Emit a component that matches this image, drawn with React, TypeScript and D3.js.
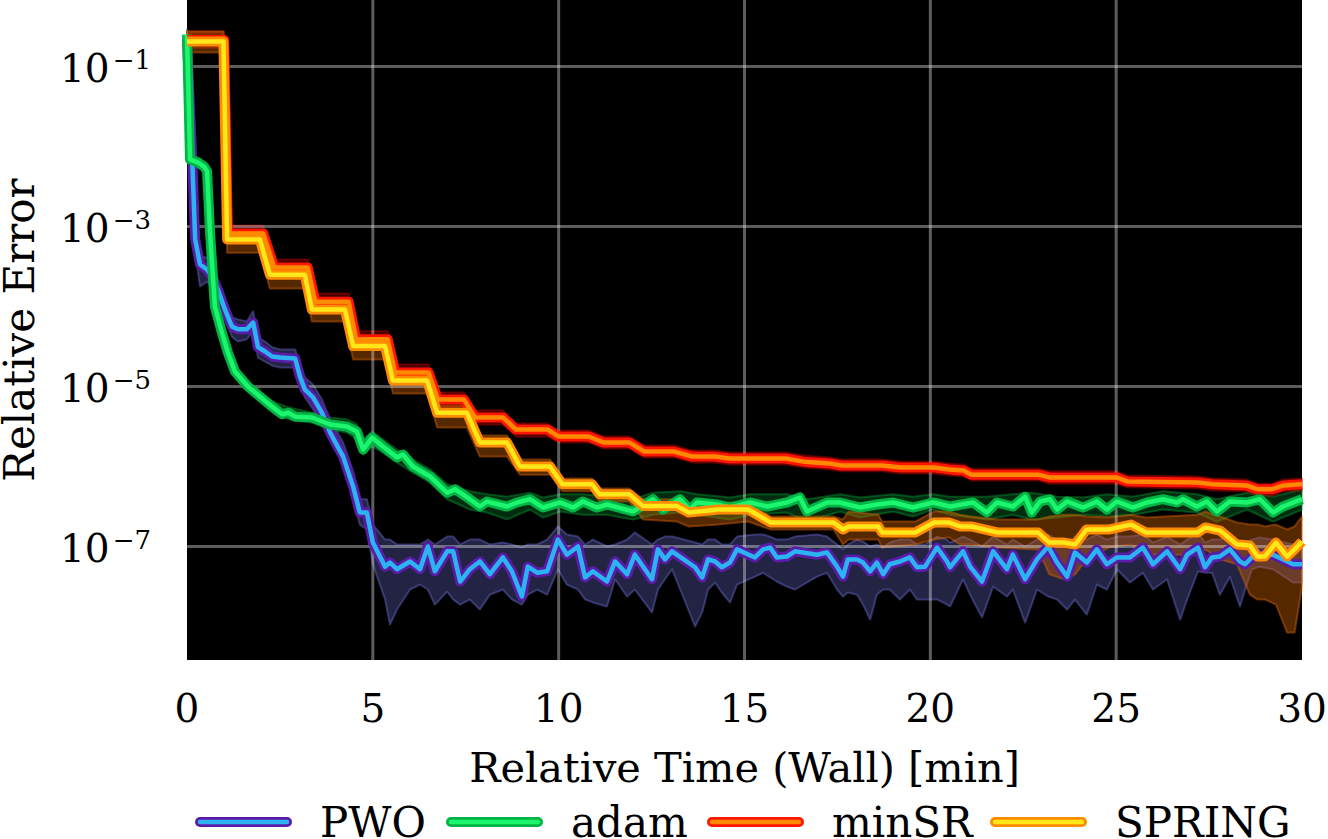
import React from 'react';
import * as d3 from 'd3';

// ---------------- DATA ----------------
const X_TICKS = [0, 5, 10, 15, 20, 25, 30];
const Y_TICK_EXPONENTS = [-1, -3, -5, -7];
const X_LABEL = 'Relative Time (Wall) [min]';
const Y_LABEL = 'Relative Error';
const SERIES_NAMES = ['PWO', 'adam', 'minSR', 'SPRING'];

// PWO
const PWO_T = [
  0, 0.13, 0.22, 0.35, 0.54, 0.67, 0.83, 1.02, 1.21, 1.37,
  1.61, 1.78, 1.91, 2.1, 2.29, 2.5, 2.91, 3.04, 3.17, 3.39,
  3.63, 3.85, 4.2, 4.47, 4.65, 4.84, 5.0, 5.33, 5.46, 5.65,
  6.0, 6.27, 6.48, 6.67, 7.0, 7.16, 7.35, 7.61, 7.88, 8.15,
  8.5, 8.74, 9.01, 9.17, 9.42, 9.69, 9.98, 10.22, 10.52, 10.71,
  10.92, 11.3, 11.52, 11.84, 12.05, 12.51, 12.67, 12.86, 13.05, 13.67,
  13.86, 14.02, 14.21, 14.39, 14.61, 14.8, 15.28, 15.5, 15.69, 15.87,
  16.14, 16.36, 16.95, 17.22, 17.49, 17.65, 17.78, 18.03, 18.19, 18.38,
  18.56, 18.73, 18.91, 19.18, 19.45, 19.64, 19.86, 20.18, 20.45, 20.53,
  20.88, 21.07, 21.39, 21.69, 22.06, 22.22, 22.55, 22.87, 23.17, 23.41,
  23.68, 23.89, 24.21, 24.48, 24.75, 25.02, 25.37, 25.72, 25.99, 26.37,
  26.72, 26.91, 27.2, 27.39, 27.58, 27.79, 28.06, 28.33, 28.47, 28.65,
  28.87, 29.22, 29.76, 30,
];
const PWO_MEAN = [
  2.2e-1, 9.2e-3, 6.9e-4, 3.35e-4, 2.9e-4, 2.37e-4, 1.63e-4, 9.2e-5, 5.6e-5, 5.2e-5,
  5.2e-5, 6.3e-5, 3.1e-5, 2.74e-5, 2.37e-5, 2.3e-5, 2.24e-5, 1.33e-5, 9.2e-6, 7.3e-6,
  4.7e-6, 2.66e-6, 1.33e-6, 5.6e-7, 2.66e-7, 2.66e-7, 1.12e-7, 5.6e-8, 6.3e-8, 5.2e-8,
  6.5e-8, 5.2e-8, 1.0e-7, 4.9e-8, 8.7e-8, 8.7e-8, 3.65e-8, 5.2e-8, 6.5e-8, 4.5e-8,
  7.3e-8, 4.9e-8, 2.37e-8, 5.6e-8, 4.7e-8, 4.9e-8, 1.22e-7, 7.9e-8, 1.0e-7, 4.1e-8,
  4.9e-8, 3.65e-8, 6.5e-8, 4.5e-8, 7.9e-8, 3.9e-8, 9.2e-8, 6.9e-8, 8.7e-8, 5.5e-8,
  4.1e-8, 6.9e-8, 6.5e-8, 5.5e-8, 6.3e-8, 9.2e-8, 7.3e-8, 9.2e-8, 9.7e-8, 7.3e-8,
  7.5e-8, 8.7e-8, 7.9e-8, 8.4e-8, 5.6e-8, 4.2e-8, 6.9e-8, 6.9e-8, 6.3e-8, 4.9e-8,
  6.3e-8, 4.5e-8, 6.0e-8, 6.5e-8, 7.3e-8, 5.5e-8, 5.6e-8, 9.7e-8, 6.5e-8, 5.5e-8,
  8.7e-8, 5.6e-8, 3.65e-8, 8.7e-8, 5.2e-8, 7.9e-8, 3.9e-8, 6.9e-8, 1.0e-7, 6.3e-8,
  4.2e-8, 8.4e-8, 6.3e-8, 9.2e-8, 6.0e-8, 7.3e-8, 7.3e-8, 9.7e-8, 6.0e-8, 8.7e-8,
  5.2e-8, 7.9e-8, 9.7e-8, 5.5e-8, 7.3e-8, 7.5e-8, 9.2e-8, 6.5e-8, 6.0e-8, 7.3e-8,
  7.9e-8, 7.9e-8, 6.0e-8, 6.0e-8,
];
const PWO_HI = [
  0.29, 1.22e-2, 8.7e-4, 4.2e-4, 4.1e-4, 3.35e-4, 2.18e-4, 1.22e-4, 7.3e-5, 6.9e-5,
  6.5e-5, 8.7e-5, 4.1e-5, 3.65e-5, 3.1e-5, 2.9e-5, 2.9e-5, 1.88e-5, 1.3e-5, 1.06e-5,
  6.9e-6, 3.9e-6, 2.0e-6, 8.7e-7, 3.9e-7, 3.9e-7, 1.88e-7, 1.22e-7, 1.22e-7, 1.06e-7,
  1.06e-7, 1.06e-7, 1.22e-7, 1.06e-7, 1.33e-7, 1.33e-7, 1.06e-7, 1.22e-7, 1.22e-7, 1.06e-7,
  1.12e-7, 1.06e-7, 9.7e-8, 1.06e-7, 1.06e-7, 1.22e-7, 1.78e-7, 1.41e-7, 1.33e-7, 1.06e-7,
  1.22e-7, 1.0e-7, 1.06e-7, 1.22e-7, 1.5e-7, 1.06e-7, 1.22e-7, 1.33e-7, 1.33e-7, 1.12e-7,
  1.06e-7, 1.22e-7, 1.22e-7, 1.06e-7, 1.06e-7, 1.33e-7, 1.41e-7, 1.41e-7, 1.33e-7, 1.22e-7,
  1.22e-7, 1.33e-7, 1.41e-7, 1.33e-7, 1.06e-7, 9.2e-8, 1.06e-7, 1.22e-7, 1.15e-7, 1.0e-7,
  1.06e-7, 9.7e-8, 1.12e-7, 1.22e-7, 1.22e-7, 1.06e-7, 1.06e-7, 1.33e-7, 1.22e-7, 1.12e-7,
  1.33e-7, 1.22e-7, 1.0e-7, 1.33e-7, 1.06e-7, 1.22e-7, 1.0e-7, 1.22e-7, 1.41e-7, 1.22e-7,
  1.06e-7, 1.33e-7, 1.22e-7, 1.41e-7, 1.22e-7, 1.33e-7, 1.33e-7, 1.41e-7, 1.12e-7, 1.33e-7,
  1.06e-7, 1.22e-7, 1.5e-7, 1.12e-7, 1.22e-7, 1.22e-7, 1.41e-7, 1.12e-7, 1.06e-7, 1.22e-7,
  1.3e-7, 1.22e-7, 1.06e-7, 1.06e-7,
];
const PWO_LO = [
  0.163, 6.0e-3, 4.9e-4, 1.78e-4, 2.05e-4, 1.73e-4, 1.22e-4, 6.9e-5, 4.2e-5, 3.65e-5,
  3.9e-5, 4.9e-5, 2.3e-5, 2.05e-5, 1.83e-5, 1.73e-5, 1.73e-5, 1.06e-5, 7.3e-6, 5.2e-6,
  3.35e-6, 2.18e-6, 1.06e-6, 3.9e-7, 1.88e-7, 1.63e-7, 6.0e-8, 2.18e-8, 1.06e-8, 1.63e-8,
  2.9e-8, 3.35e-8, 2.9e-8, 1.88e-8, 2.74e-8, 2.18e-8, 1.88e-8, 2.18e-8, 1.63e-8, 2.5e-8,
  2.9e-8, 2.18e-8, 1.88e-8, 2.5e-8, 2.9e-8, 2.5e-8, 5.2e-8, 3.35e-8, 2.9e-8, 2.18e-8,
  2.0e-8, 1.78e-8, 3.9e-8, 2.37e-8, 2.9e-8, 1.5e-8, 2.9e-8, 3.9e-8, 5.2e-8, 1.0e-8,
  1.5e-8, 2.9e-8, 3.55e-8, 2.66e-8, 2.0e-8, 3.35e-8, 4.2e-8, 4.7e-8, 4.1e-8, 3.65e-8,
  3.16e-8, 2.9e-8, 4.2e-8, 4.7e-8, 2.9e-8, 2.37e-8, 2.66e-8, 2.5e-8, 1.88e-8, 1.22e-8,
  2.5e-8, 2.9e-8, 2.9e-8, 2.18e-8, 2.9e-8, 2.18e-8, 2.18e-8, 2.18e-8, 1.88e-8, 1.78e-8,
  3.9e-8, 2.5e-8, 1.3e-8, 3.16e-8, 2.37e-8, 2.9e-8, 1.12e-8, 2.9e-8, 2.37e-8, 2.18e-8,
  1.63e-8, 2.18e-8, 1.41e-8, 3.35e-8, 2.9e-8, 5.2e-8, 3.55e-8, 4.7e-8, 2.9e-8, 3.9e-8,
  1.22e-8, 2.18e-8, 4.9e-8, 4.7e-8, 4.7e-8, 2.5e-8, 4.2e-8, 1.78e-8, 2.9e-8, 5.2e-8,
  5.6e-8, 5.2e-8, 3.55e-8, 3.55e-8,
];

// adam
const ADAM_T = [
  0, 0.05, 0.08, 0.3, 0.46, 0.54, 0.62, 0.75, 0.94, 1.1,
  1.29, 1.64, 1.96, 2.29, 2.56, 2.72, 2.91, 3.36, 3.85, 4.3,
  4.57, 4.74, 4.98, 5.27, 5.65, 5.81, 6.08, 6.54, 7.0, 7.21,
  7.61, 7.88, 8.07, 8.61, 8.88, 9.23, 9.58, 10.04, 10.39, 10.65,
  11.03, 11.3, 12.0, 12.54, 12.81, 13.26, 13.53, 13.72, 14.26, 14.61,
  15.15, 15.61, 16.14, 16.49, 16.68, 17.22, 17.57, 18.11, 18.56, 19.0,
  19.53, 20.07, 20.53, 21.15, 21.52, 21.79, 22.22, 22.55, 22.73, 22.95,
  23.22, 23.41, 23.68, 24.11, 24.48, 24.75, 25.02, 25.45, 25.83, 26.26,
  26.64, 26.8, 27.17, 27.44, 27.71, 28.06, 28.52, 28.87, 29.22, 29.49,
  30,
];
const ADAM_MEAN = [
  0.25, 2.9e-2, 6.9e-3, 6.3e-3, 5.6e-3, 4.9e-3, 8.4e-4, 1.0e-4, 4.7e-5, 2.66e-5,
  1.54e-5, 1.0e-5, 7.5e-6, 5.6e-6, 4.5e-6, 4.7e-6, 4.2e-6, 4.1e-6, 3.35e-6, 3.16e-6,
  2.74e-6, 1.63e-6, 2.3e-6, 1.78e-6, 1.3e-6, 1.41e-6, 1.0e-6, 7.5e-7, 4.7e-7, 5.2e-7,
  3.9e-7, 3.16e-7, 3.65e-7, 3.16e-7, 3.55e-7, 3.9e-7, 3.07e-7, 3.55e-7, 3.07e-7, 3.65e-7,
  3.07e-7, 3.35e-7, 2.74e-7, 3.9e-7, 2.9e-7, 3.9e-7, 2.9e-7, 3.55e-7, 3.35e-7, 3.07e-7,
  3.55e-7, 3.16e-7, 3.55e-7, 4.1e-7, 2.74e-7, 3.55e-7, 3.55e-7, 3.07e-7, 3.35e-7, 3.55e-7,
  3.07e-7, 3.55e-7, 3.16e-7, 3.55e-7, 2.66e-7, 3.55e-7, 3.16e-7, 4.2e-7, 2.66e-7, 3.65e-7,
  3.9e-7, 2.9e-7, 3.65e-7, 3.07e-7, 3.65e-7, 2.9e-7, 3.65e-7, 3.07e-7, 3.55e-7, 3.9e-7,
  3.55e-7, 3.9e-7, 3.16e-7, 3.65e-7, 2.74e-7, 3.65e-7, 3.55e-7, 3.9e-7, 2.66e-7, 3.16e-7,
  3.9e-7,
];
const ADAM_BAND_T = [
  0, 0.08, 0.3, 0.46, 0.54, 0.62, 0.75, 0.94, 1.1, 1.29,
  1.64, 1.96, 2.29, 2.72, 3.36, 3.85, 4.3, 4.57, 4.74, 4.98,
  5.27, 5.65, 6.08, 6.54, 7.0, 7.61, 8.07, 8.61, 9.23, 9.58,
  10.04, 10.65, 11.3, 12.0, 12.54, 13.26, 13.72, 14.61, 15.15, 16.14,
  16.68, 17.57, 18.11, 19.0, 19.53, 20.07, 20.53, 21.52, 22.22, 22.73,
  23.41, 24.11, 24.75, 25.45, 26.26, 27.17, 27.71, 28.52, 29.22, 30,
];
const ADAM_HI = [
  0.29, 7.9e-3, 7.3e-3, 6.5e-3, 5.6e-3, 9.7e-4, 1.15e-4, 5.5e-5, 3.1e-5, 1.78e-5,
  1.15e-5, 8.7e-6, 6.5e-6, 5.5e-6, 4.7e-6, 4.1e-6, 3.9e-6, 3.35e-6, 2.18e-6, 2.74e-6,
  2.18e-6, 1.63e-6, 1.22e-6, 9.2e-7, 6.0e-7, 4.9e-7, 4.5e-7, 4.2e-7, 4.7e-7, 4.1e-7,
  4.5e-7, 4.5e-7, 4.2e-7, 3.9e-7, 4.7e-7, 4.9e-7, 4.5e-7, 4.1e-7, 4.5e-7, 4.5e-7,
  3.9e-7, 4.5e-7, 4.1e-7, 4.5e-7, 4.2e-7, 4.5e-7, 4.2e-7, 4.2e-7, 4.5e-7, 4.7e-7,
  4.2e-7, 4.1e-7, 4.5e-7, 4.2e-7, 4.9e-7, 4.5e-7, 3.9e-7, 4.7e-7, 4.2e-7, 5.2e-7,
];
const ADAM_LO = [
  0.188, 6.0e-3, 5.5e-3, 4.9e-3, 4.2e-3, 7.3e-4, 8.7e-5, 4.1e-5, 2.3e-5, 1.33e-5,
  8.7e-6, 6.5e-6, 4.9e-6, 3.9e-6, 3.55e-6, 2.9e-6, 2.66e-6, 2.18e-6, 1.41e-6, 1.78e-6,
  1.5e-6, 1.12e-6, 8.4e-7, 6.3e-7, 3.9e-7, 2.9e-7, 2.66e-7, 2.18e-7, 2.9e-7, 2.3e-7,
  2.74e-7, 2.5e-7, 2.5e-7, 2.18e-7, 2.5e-7, 2.66e-7, 2.5e-7, 2.18e-7, 2.5e-7, 2.66e-7,
  2.05e-7, 2.74e-7, 2.3e-7, 2.74e-7, 2.37e-7, 2.9e-7, 2.5e-7, 2.18e-7, 2.5e-7, 2.18e-7,
  2.3e-7, 2.5e-7, 2.37e-7, 2.5e-7, 2.9e-7, 2.66e-7, 2.05e-7, 2.9e-7, 2.05e-7, 2.9e-7,
];

// minSR
const MINSR_T = [
  0, 1.0, 1.1, 2.05, 2.35, 3.25, 3.45, 4.35, 4.55, 5.4,
  5.6, 6.5, 6.75, 7.45, 7.75, 8.5, 8.85, 9.7, 10.0, 10.8,
  11.2, 11.9, 12.3, 13.1, 13.6, 14.2, 14.6, 16.1, 16.6, 17.3,
  17.6, 18.7, 19.2, 20.1, 20.5, 20.9, 21.1, 22.9, 23.2, 25.0,
  25.3, 27.2, 27.6, 28.5, 28.8, 29.2, 29.5, 30,
];
const MINSR_MEAN = [
  2.15e-1, 2.15e-1, 8.2e-4, 8.2e-4, 3.07e-4, 3.07e-4, 1.15e-4, 1.15e-4, 3.9e-5, 3.9e-5,
  1.5e-5, 1.5e-5, 6.9e-6, 6.9e-6, 4.1e-6, 4.1e-6, 2.9e-6, 2.9e-6, 2.37e-6, 2.37e-6,
  2.0e-6, 2.0e-6, 1.54e-6, 1.54e-6, 1.33e-6, 1.33e-6, 1.26e-6, 1.26e-6, 1.15e-6, 1.09e-6,
  1.03e-6, 1.03e-6, 9.7e-7, 9.7e-7, 9.2e-7, 8.9e-7, 7.9e-7, 7.9e-7, 7.3e-7, 7.3e-7,
  6.5e-7, 6.3e-7, 6.0e-7, 5.8e-7, 5.2e-7, 5.2e-7, 5.8e-7, 6.0e-7,
];
const MINSR_HI = [
  0.274, 0.274, 1.03e-3, 1.03e-3, 3.87e-4, 3.87e-4, 1.45e-4, 1.45e-4, 4.9e-5, 4.9e-5,
  1.88e-5, 1.88e-5, 8.4e-6, 8.4e-6, 5.0e-6, 5.0e-6, 3.45e-6, 3.45e-6, 2.82e-6, 2.82e-6,
  2.37e-6, 2.37e-6, 1.83e-6, 1.83e-6, 1.58e-6, 1.58e-6, 1.5e-6, 1.5e-6, 1.37e-6, 1.3e-6,
  1.22e-6, 1.22e-6, 1.15e-6, 1.15e-6, 1.09e-6, 1.06e-6, 9.4e-7, 9.4e-7, 8.7e-7, 8.7e-7,
  7.7e-7, 7.5e-7, 7.1e-7, 6.9e-7, 6.1e-7, 6.1e-7, 6.9e-7, 7.1e-7,
];
const MINSR_LO = [
  0.173, 0.173, 6.5e-4, 6.5e-4, 2.44e-4, 2.44e-4, 9.2e-5, 9.2e-5, 3.1e-5, 3.1e-5,
  1.19e-5, 1.19e-5, 5.5e-6, 5.5e-6, 3.35e-6, 3.35e-6, 2.37e-6, 2.37e-6, 2.0e-6, 2.0e-6,
  1.68e-6, 1.68e-6, 1.3e-6, 1.3e-6, 1.12e-6, 1.12e-6, 1.06e-6, 1.06e-6, 9.7e-7, 9.2e-7,
  8.7e-7, 8.7e-7, 8.2e-7, 8.2e-7, 7.7e-7, 7.5e-7, 6.7e-7, 6.7e-7, 6.1e-7, 6.1e-7,
  5.5e-7, 5.3e-7, 5.0e-7, 4.9e-7, 4.3e-7, 4.3e-7, 4.9e-7, 5.0e-7,
];

// SPRING
const SPRING_T = [
  0, 0.98, 1.08, 1.96, 2.23, 3.17, 3.36, 4.25, 4.47, 5.33,
  5.54, 6.46, 6.73, 7.53, 7.88, 8.61, 8.96, 9.77, 10.1, 10.9,
  11.1, 11.9, 12.27, 13.18, 13.5, 14.3, 15.1, 15.7, 17.4, 17.65,
  17.8, 18.6, 18.7, 19.6, 20.1, 20.5, 20.8, 21.1, 21.8, 22.9,
  23.2, 23.6, 23.9, 24.2, 24.8, 25.4, 25.8, 27.2, 27.4, 27.8,
  28.25, 28.6, 28.8, 29.0, 29.3, 29.6, 29.8, 30,
];
const SPRING_MEAN = [
  0.205, 0.205, 6.9e-4, 6.9e-4, 2.5e-4, 2.5e-4, 9.2e-5, 9.2e-5, 3.2e-5, 3.2e-5,
  1.19e-5, 1.19e-5, 4.7e-6, 4.7e-6, 2.0e-6, 2.0e-6, 1.0e-6, 1.0e-6, 6.0e-7, 6.0e-7,
  4.5e-7, 4.5e-7, 3.2e-7, 3.2e-7, 2.66e-7, 2.9e-7, 2.9e-7, 2.0e-7, 2.0e-7, 1.63e-7,
  1.78e-7, 1.78e-7, 1.5e-7, 1.5e-7, 2.0e-7, 2.0e-7, 1.78e-7, 1.78e-7, 1.5e-7, 1.5e-7,
  1.12e-7, 1.12e-7, 1.06e-7, 1.63e-7, 1.63e-7, 1.88e-7, 1.5e-7, 1.5e-7, 1.73e-7, 1.58e-7,
  1.06e-7, 1.03e-7, 7.5e-8, 7.5e-8, 1.12e-7, 7.5e-8, 9.2e-8, 1.15e-7,
];
const SPRING_HI = [
  0.274, 0.274, 8.7e-4, 8.7e-4, 3.16e-4, 3.16e-4, 1.15e-4, 1.15e-4, 3.9e-5, 3.9e-5,
  1.45e-5, 1.45e-5, 5.8e-6, 5.8e-6, 2.44e-6, 2.44e-6, 1.22e-6, 1.22e-6, 7.1e-7, 7.1e-7,
  5.3e-7, 5.3e-7, 3.9e-7, 3.9e-7, 3.35e-7, 3.55e-7, 3.55e-7, 2.37e-7, 2.37e-7, 2.18e-7,
  2.74e-7, 2.5e-7, 2.05e-7, 2.05e-7, 2.74e-7, 2.74e-7, 2.5e-7, 2.37e-7, 2.18e-7, 2.18e-7,
  2.37e-7, 2.5e-7, 2.5e-7, 2.37e-7, 2.3e-7, 2.5e-7, 2.3e-7, 2.5e-7, 2.74e-7, 2.37e-7,
  2.0e-7, 1.88e-7, 1.88e-7, 1.78e-7, 1.88e-7, 1.63e-7, 1.78e-7, 2.37e-7,
];
const SPRING_LO = [
  0.15, 0.15, 4.7e-4, 4.7e-4, 1.68e-4, 1.68e-4, 6.5e-5, 6.5e-5, 2.18e-5, 2.18e-5,
  8.2e-6, 8.2e-6, 3.07e-6, 3.07e-6, 1.33e-6, 1.33e-6, 7.9e-7, 7.9e-7, 4.9e-7, 4.9e-7,
  3.65e-7, 3.65e-7, 2.18e-7, 2.05e-7, 1.78e-7, 1.88e-7, 2.05e-7, 1.63e-7, 1.63e-7, 1.06e-7,
  1.22e-7, 1.22e-7, 9.7e-8, 1.06e-7, 1.22e-7, 1.3e-7, 1.06e-7, 1.06e-7, 9.7e-8, 9.2e-8,
  4.5e-8, 3.9e-8, 4.5e-8, 6.9e-8, 9.7e-8, 1.06e-7, 7.9e-8, 7.9e-8, 9.2e-8, 6.9e-8,
  6.0e-8, 2.5e-8, 2.18e-8, 2.18e-8, 1.88e-8, 8.4e-9, 8.4e-9, 3.16e-8,
];

// ---------------- STYLE / LAYOUT ----------------
const W = 1328;
const H = 839;
const PLOT = { left: 187, right: 1302, top: 0, bottom: 660 };
const FONT = '"DejaVu Serif", "Liberation Serif", serif';
const LEGEND_X = [198, 449, 710, 993];

type Series = {
  name: string;
  t: number[];
  mean: number[];
  bandT: number[];
  hi: number[];
  lo: number[];
  outer: string;
  inner: string;
  fill: string;
  fillOpacity: number;
};

const SERIES: Series[] = [
  { name: SERIES_NAMES[0], t: PWO_T, mean: PWO_MEAN, bandT: PWO_T, hi: PWO_HI, lo: PWO_LO,
    outer: '#5a1ca8', inner: '#2cb4f2', fill: 'rgb(105,105,205)', fillOpacity: 0.33 },
  { name: SERIES_NAMES[1], t: ADAM_T, mean: ADAM_MEAN, bandT: ADAM_BAND_T, hi: ADAM_HI, lo: ADAM_LO,
    outer: '#00b545', inner: '#1cf56e', fill: 'rgb(0,150,50)', fillOpacity: 0.3 },
  { name: SERIES_NAMES[2], t: MINSR_T, mean: MINSR_MEAN, bandT: MINSR_T, hi: MINSR_HI, lo: MINSR_LO,
    outer: '#ff1500', inner: '#ff8a00', fill: 'rgb(190,0,0)', fillOpacity: 0.35 },
  { name: SERIES_NAMES[3], t: SPRING_T, mean: SPRING_MEAN, bandT: SPRING_T, hi: SPRING_HI, lo: SPRING_LO,
    outer: '#ff8c00', inner: '#ffe71a', fill: 'rgb(215,100,0)', fillOpacity: 0.4 },
];

const OUTER_W = 10;
const INNER_W = 4.5;

export default function App() {
  const x = d3.scaleLinear().domain([0, 30]).range([PLOT.left, PLOT.right]);
  const y = d3.scaleLog().domain([1e-1, 1e-7]).range([66.5, 546.5]);

  const bands = SERIES.map((s) => {
    const area = d3
      .area<number>()
      .x((_, i) => x(s.bandT[i]))
      .y0((_, i) => y(s.lo[i]))
      .y1((_, i) => y(s.hi[i]));
    return (
      <path
        key={'band-' + s.name}
        d={area(s.hi) || ''}
        fill={s.fill}
        fillOpacity={s.fillOpacity}
        stroke={s.fill}
        strokeOpacity={0.45}
        strokeWidth={2}
        strokeLinejoin="round"
      />
    );
  });

  const lines = SERIES.map((s) => {
    const line = d3
      .line<number>()
      .x((_, i) => x(s.t[i]))
      .y((d) => y(d));
    const d = line(s.mean) || '';
    return (
      <g key={'line-' + s.name}>
        <path d={d} fill="none" stroke={s.outer} strokeWidth={OUTER_W} strokeLinejoin="round" strokeLinecap="butt" />
        <path d={d} fill="none" stroke={s.inner} strokeWidth={INNER_W} strokeLinejoin="round" strokeLinecap="butt" />
      </g>
    );
  });

  const gridColor = 'rgba(255,255,255,0.36)';

  return (
    <svg
      width={W}
      height={H}
      viewBox={`0 0 ${W} ${H}`}
      style={{ position: 'absolute', left: 0, top: 0, display: 'block', background: '#ffffff' }}
    >
      <rect x={PLOT.left} y={PLOT.top} width={PLOT.right - PLOT.left} height={PLOT.bottom - PLOT.top} fill="#000" />
      {bands}
      {X_TICKS.filter((v) => v > 0 && v < 30).map((v) => (
        <line key={'gx' + v} x1={x(v)} x2={x(v)} y1={PLOT.top} y2={PLOT.bottom} stroke={gridColor} strokeWidth={3} />
      ))}
      {Y_TICK_EXPONENTS.map((e) => (
        <line key={'gy' + e} x1={PLOT.left} x2={PLOT.right} y1={y(Math.pow(10, e))} y2={y(Math.pow(10, e))} stroke={gridColor} strokeWidth={3} />
      ))}
      {lines}

      {/* x tick labels */}
      {X_TICKS.map((v) => (
        <text key={'xt' + v} x={x(v)} y={722} textAnchor="middle" fontFamily={FONT} fontSize={39} fill="#000">
          {String(v)}
        </text>
      ))}
      {/* y tick labels */}
      {Y_TICK_EXPONENTS.map((e) => (
        <text key={'yt' + e} x={151} y={y(Math.pow(10, e)) + 15} textAnchor="end" fontFamily={FONT} fontSize={39} fill="#000">
          10
          <tspan dx={3} dy={-13} fontSize={26}>
            {'\u2212' + String(Math.abs(e))}
          </tspan>
        </text>
      ))}
      {/* axis labels */}
      <text x={(PLOT.left + PLOT.right) / 2} y={782} textAnchor="middle" fontFamily={FONT} fontSize={41.5} fill="#000">
        {X_LABEL}
      </text>
      <text
        transform={`translate(34, 330) rotate(-90)`}
        textAnchor="middle"
        fontFamily={FONT}
        fontSize={42}
        fill="#000"
      >
        {Y_LABEL}
      </text>

      {/* legend */}
      {SERIES.map((s, i) => (
        <g key={'lg' + s.name}>
          <line x1={LEGEND_X[i] + 2} x2={LEGEND_X[i] + 89} y1={822} y2={822} stroke={s.outer} strokeWidth={OUTER_W} strokeLinecap="round" />
          <line x1={LEGEND_X[i] + 2} x2={LEGEND_X[i] + 89} y1={822} y2={822} stroke={s.inner} strokeWidth={INNER_W} strokeLinecap="round" />
          <text x={LEGEND_X[i] + 122} y={837} fontFamily={FONT} fontSize={42} fill="#000">
            {s.name}
          </text>
        </g>
      ))}
    </svg>
  );
}
